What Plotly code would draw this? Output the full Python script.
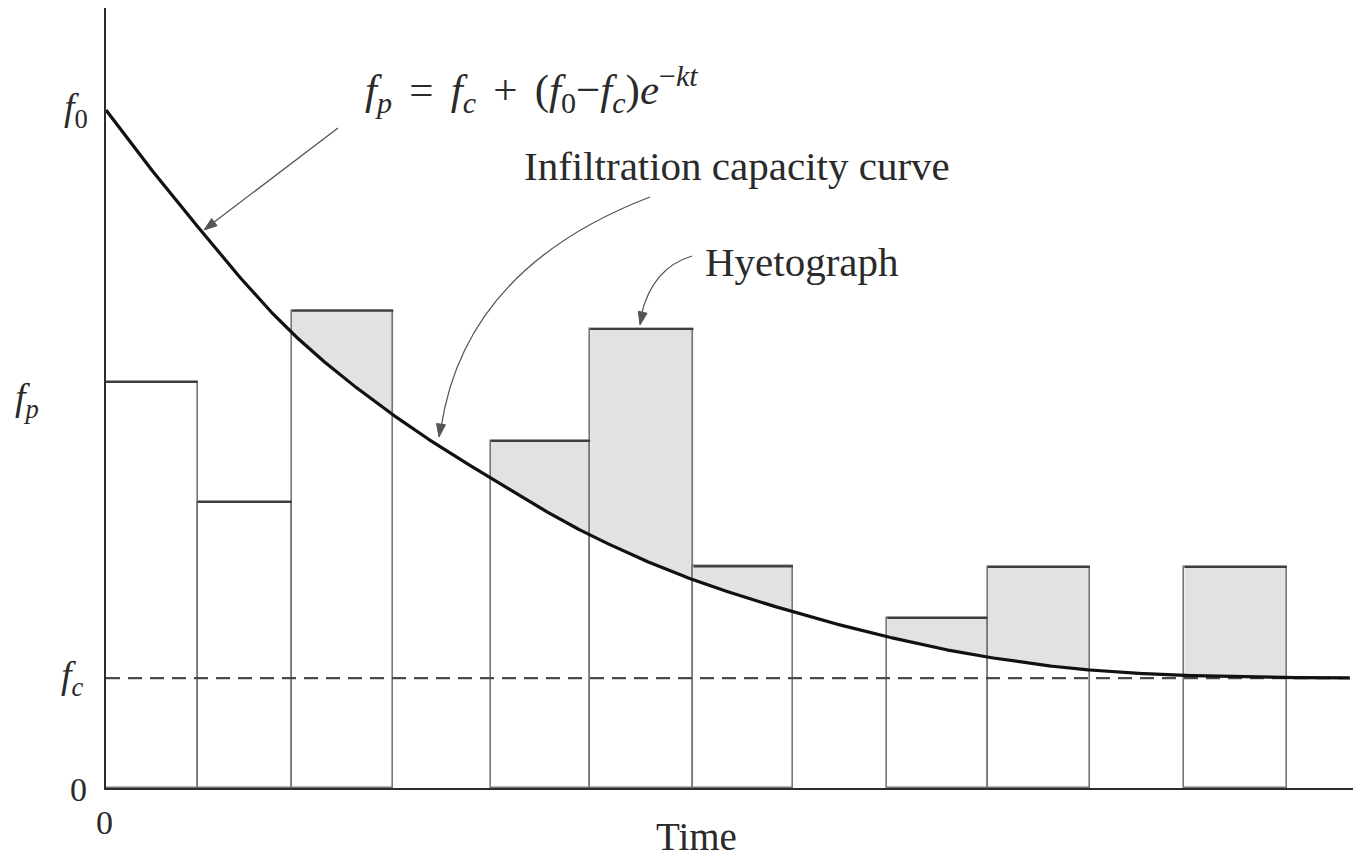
import numpy as np
import plotly.graph_objects as go

# ---------------- data ----------------
interval_edges = [0, 0.93, 1.89, 2.92, 3.91, 4.92, 5.97, 6.98, 7.94, 8.96, 10.0, 10.96, 12.0]
rain_intensity = [5.99, 4.22, 7.04, 0, 5.12, 6.77, 3.27, 0, 2.51, 3.26, 0, 3.26]
curve_time = [0, 0.75, 1.9, 2.92, 3.91, 4.92, 5.97, 6.98, 7.94, 8.96, 10.0, 10.96, 12.0, 12.64]
curve_fp = [10.0, 8.60, 6.70, 5.50, 4.57, 3.73, 3.07, 2.60, 2.23, 1.93, 1.74, 1.66, 1.63, 1.625]
f0_value = 10.0
fc_value = 1.62

FONT = "Liberation Serif"
TXT = "#2a2a2a"


def pchip(x, y, xs):
    x = np.asarray(x, float)
    y = np.asarray(y, float)
    xs = np.asarray(xs, float)
    h = np.diff(x)
    d = np.diff(y) / h
    n = len(x)
    m = np.zeros(n)
    for i in range(1, n - 1):
        if d[i - 1] * d[i] > 0:
            w1 = 2 * h[i] + h[i - 1]
            w2 = h[i] + 2 * h[i - 1]
            m[i] = (w1 + w2) / (w1 / d[i - 1] + w2 / d[i])

    def end(h0, h1, d0, d1):
        mm = ((2 * h0 + h1) * d0 - h0 * d1) / (h0 + h1)
        if np.sign(mm) != np.sign(d0):
            mm = 0.0
        elif np.sign(d0) != np.sign(d1) and abs(mm) > abs(3 * d0):
            mm = 3 * d0
        return mm

    m[0] = end(h[0], h[1], d[0], d[1])
    m[-1] = end(h[-1], h[-2], d[-1], d[-2])
    idx = np.clip(np.searchsorted(x, xs) - 1, 0, n - 2)
    t = (xs - x[idx]) / h[idx]
    h00 = 2 * t**3 - 3 * t**2 + 1
    h10 = t**3 - 2 * t**2 + t
    h01 = -2 * t**3 + 3 * t**2
    h11 = t**3 - t**2
    return h00 * y[idx] + h10 * h[idx] * m[idx] + h01 * y[idx + 1] + h11 * h[idx] * m[idx + 1]


edges = np.array(interval_edges)
heights = np.array(rain_intensity, float)
centers = (edges[:-1] + edges[1:]) / 2
widths = np.diff(edges)

dense_t = np.linspace(curve_time[0], curve_time[-1], 800)
dense_f = pchip(curve_time, curve_fp, dense_t)

# ---- page geometry (page body has an 8px offset) ----
OFF = 8
W, H = 1361 - OFF, 866 - OFF
X0_PX, X_SCALE = 106, 98.4      # reference pixel of t=0, px per time unit
Y0_PX, Y_SCALE = 788, 67.8      # reference pixel of 0, px per unit
RIGHT_PX, TOP_PX = 1355, OFF
L = X0_PX - OFF
R = W - (RIGHT_PX - OFF)
T = TOP_PX - OFF
B = H - (Y0_PX - OFF)
XMAX = (RIGHT_PX - X0_PX) / X_SCALE
YMAX = (Y0_PX - TOP_PX) / Y_SCALE


def dx(px):
    return (px - X0_PX) / X_SCALE


def dy(py):
    return (Y0_PX - py) / Y_SCALE


def paper_x(px):
    return (px - OFF - L) / (W - L - R)


def paper_y(py):
    return ((H - B) - (py - OFF)) / (H - B - T)


fig = go.Figure()

# shaded excess rainfall (above infiltration curve)
shapes = []
for a, b, hgt in zip(edges[:-1], edges[1:], heights):
    if hgt <= 0:
        continue
    xs = np.linspace(a, b, 80)
    cv = pchip(curve_time, curve_fp, xs)
    if (hgt - cv).max() <= 0.005:
        continue
    lower = np.minimum(cv, hgt)
    path = f"M {a},{hgt} L {b},{hgt} " + " ".join(
        f"L {x:.4f},{y:.4f}" for x, y in zip(xs[::-1], lower[::-1])) + " Z"
    shapes.append(dict(type="path", path=path, xref="x", yref="y",
                       fillcolor="#e2e2e2", line=dict(width=0), layer="below"))

# bars (hyetograph)
bar_y = [v if v > 0 else None for v in heights]
fig.add_trace(go.Bar(x=centers, y=bar_y, width=widths,
                     marker=dict(color="rgba(0,0,0,0)",
                                 line=dict(color="#767676", width=1.6)),
                     hoverinfo="skip", showlegend=False))

# darker bar tops
top_x, top_y = [], []
for a, b, hgt in zip(edges[:-1], edges[1:], heights):
    if hgt > 0:
        top_x += [a, b, None]
        top_y += [hgt, hgt, None]
fig.add_trace(go.Scatter(x=top_x, y=top_y, mode="lines",
                         line=dict(color="#3e3e3e", width=2.2),
                         hoverinfo="skip", showlegend=False))

# fc dashed line
fig.add_trace(go.Scatter(x=[0, curve_time[-1]], y=[fc_value, fc_value], mode="lines",
                         line=dict(color="#4a4a4a", width=2.2, dash="14px,8px"),
                         hoverinfo="skip", showlegend=False))

# infiltration capacity curve
fig.add_trace(go.Scatter(x=dense_t, y=dense_f, mode="lines",
                         line=dict(color="#111111", width=3.2),
                         hoverinfo="skip", showlegend=False))

# ---- leader lines with arrowheads (drawn as shapes) ----
ARROW = "#555555"


def arrowhead(tip, back, length=13, half=4.5):
    vx, vy = tip[0] - back[0], tip[1] - back[1]
    n = np.hypot(vx, vy)
    ux, uy = vx / n, vy / n
    bx, by = tip[0] - ux * length, tip[1] - uy * length
    p1 = (bx - uy * half, by + ux * half)
    p2 = (bx + uy * half, by - ux * half)
    path = (f"M {dx(tip[0])},{dy(tip[1])} L {dx(p1[0])},{dy(p1[1])} "
            f"L {dx(p2[0])},{dy(p2[1])} Z")
    shapes.append(dict(type="path", xref="x", yref="y", path=path,
                       fillcolor=ARROW, line=dict(color=ARROW, width=1)))


# formula -> curve (straight)
shapes.append(dict(type="line", xref="x", yref="y", x0=dx(338), y0=dy(128),
                   x1=dx(209), y1=dy(226), line=dict(color=ARROW, width=1.3)))
arrowhead((204, 230), (338, 128))

# "Infiltration capacity curve" (curved)
p0, c, p2 = (650, 197), (465, 268), (441, 428)
shapes.append(dict(type="path", xref="x", yref="y",
                   path=f"M {dx(p0[0])},{dy(p0[1])} Q {dx(c[0])},{dy(c[1])} {dx(p2[0])},{dy(p2[1])}",
                   line=dict(color=ARROW, width=1.3)))
arrowhead((439, 437), c)

# "Hyetograph" (curved)
q0, qc, q2 = (692, 256), (652, 268), (641, 316)
shapes.append(dict(type="path", xref="x", yref="y",
                   path=f"M {dx(q0[0])},{dy(q0[1])} Q {dx(qc[0])},{dy(qc[1])} {dx(q2[0])},{dy(q2[1])}",
                   line=dict(color=ARROW, width=1.3)))
arrowhead((640, 325), qc)

annotations = []


def label(text, px, py, size):
    annotations.append(dict(x=paper_x(px), y=paper_y(py), xref="paper", yref="paper",
                            text=text, showarrow=False, xanchor="center", yanchor="middle",
                            font=dict(family=FONT, size=size, color=TXT)))


label("<i>f<sub>p</sub></i>\u2009\u2009=\u2009\u2009<i>f<sub>c</sub></i>\u2009\u2009+\u2009\u2009"
      "(<i>f</i><sub>0</sub>\u2212<i>f<sub>c</sub></i>)<i>e</i><sup>\u2212<i>kt</i></sup>",
      531, 90, 43)
label("Infiltration capacity curve", 737, 166, 41)
label("Hyetograph", 802, 262, 41)
label("Time", 696, 836, 39)
label("<i>f</i><sub>0</sub>", 76, 110, 38)
label("<i>f<sub>p</sub></i>", 27, 400, 38)
label("<i>f<sub>c</sub></i>", 72, 678, 38)
label("0", 78, 789, 34)
label("0", 104, 822, 34)

axis_common = dict(showgrid=False, zeroline=False, showticklabels=False, ticks="",
                   showline=True, linecolor="#2b2b2b", linewidth=2, fixedrange=True)
fig.update_layout(
    width=W, height=H,
    margin=dict(l=L, r=R, t=T, b=B, pad=0),
    paper_bgcolor="white", plot_bgcolor="white",
    xaxis=dict(range=[0, XMAX], **axis_common),
    yaxis=dict(range=[0, YMAX], **axis_common),
    shapes=shapes, annotations=annotations,
    showlegend=False, bargap=0,
)

fig.write_html("out.html")
